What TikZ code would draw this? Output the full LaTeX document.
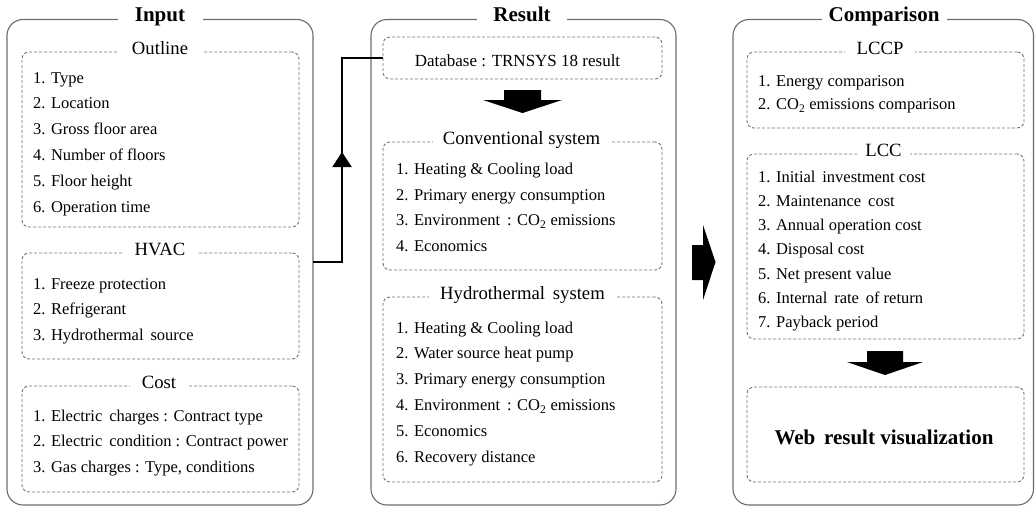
\documentclass[tikz,border=0pt]{standalone}
\usepackage{fontspec}
\setmainfont{Liberation Serif}
\usetikzlibrary{arrows.meta}
\definecolor{framegray}{gray}{0.42}
\definecolor{dashgray}{gray}{0.45}
\tikzset{
  outerbox/.style={draw=framegray, line width=1.1pt, rounded corners=16pt, inner sep=0pt, outer sep=0pt},
  secbox/.style={draw=dashgray, line width=0.9pt, dash pattern=on 3pt off 2pt, rounded corners=7pt, inner sep=0pt, outer sep=0pt},
  maintitle/.style={anchor=base, fill=white, inner xsep=0pt, inner ysep=1pt, font=\fontsize{21}{24}\selectfont\bfseries},
  sectitle/.style={anchor=base, fill=white, inner xsep=0pt, inner ysep=1pt, font=\fontsize{18.7}{22}\selectfont},
  item/.style={anchor=base west, inner sep=0pt, font=\fontsize{16.5}{20}\selectfont},
  conn/.style={line width=2pt},
  blockarrow/.style={fill=black, draw=none},
}
\begin{document}
\begin{tikzpicture}[x=1pt,y=-1pt]
\useasboundingbox (0,0) rectangle (1035,507);

% ---------- outer boxes ----------
\node[outerbox, minimum width=306pt, minimum height=485.5pt] (input) at (160,262.25) {};
\node[outerbox, minimum width=305pt, minimum height=485.5pt] (result) at (523.5,262.25) {};
\node[outerbox, minimum width=300.5pt, minimum height=485.5pt] (comp) at (883.25,262.25) {};

\node[maintitle, minimum width=85pt] (tinput) at (160,21.5) {\strut Input};
\node[maintitle, minimum width=90pt] (tresult) at (522,21.5) {\strut Result};
\node[maintitle, minimum width=125pt] (tcomp) at (884,21.5) {\strut Comparison};

% ---------- Input column ----------
\node[secbox, minimum width=277pt, minimum height=175pt] (outline) at (160.5,139.5) {};
\node[sectitle, minimum width=83pt] (toutline) at (160,54.5) {Outline};
\node[item] (o1) at (33,83) {1. Type};
\node[item] (o2) at (33,108.8) {2. Location};
\node[item] (o3) at (33,134.6) {3. Gross floor area};
\node[item] (o4) at (33,160.4) {4. Number of floors};
\node[item] (o5) at (33,186.2) {5. Floor height};
\node[item] (o6) at (33,212) {6. Operation time};

\node[secbox, minimum width=277pt, minimum height=106pt] (hvac) at (160.5,306) {};
\node[sectitle, minimum width=73pt] (thvac) at (160,255.5) {HVAC};
\node[item] (h1) at (33,289) {1. Freeze protection};
\node[item] (h2) at (33,314.5) {2. Refrigerant};
\node[item] (h3) at (33,340) {3. Hydrothermal\ \,source};

\node[secbox, minimum width=277pt, minimum height=106pt] (cost) at (160.5,439) {};
\node[sectitle, minimum width=58pt] (tcost) at (159,388.5) {Cost};
\node[item] (c1) at (33,421) {1. Electric\ \,charges : Contract type};
\node[item] (c2) at (33,446.5) {2. Electric\ \,condition : Contract power};
\node[item] (c3) at (33,472) {3. Gas charges : Type, conditions};

% ---------- Result column ----------
\node[secbox, minimum width=279pt, minimum height=42pt] (db) at (522.5,58) {};
\node[item, font=\fontsize{17}{20}\selectfont, anchor=base] (dbtext) at (517.5,66.5) {Database : TRNSYS 18 result};

\node[secbox, minimum width=279pt, minimum height=128pt] (conv) at (522.5,206) {};
\node[sectitle, minimum width=178pt] (tconv) at (521.5,144.5) {Conventional system};
\node[item] (v1) at (396,174) {1. Heating \& Cooling load};
\node[item] (v2) at (396,200) {2. Primary energy consumption};
\node[item] (v3) at (396,225.5) {3. Environment\ \,: CO\textsubscript{2} emissions};
\node[item] (v4) at (396,251) {4. Economics};

\node[secbox, minimum width=279pt, minimum height=185pt] (hydro) at (522.5,389.5) {};
\node[sectitle, minimum width=187pt] (thydro) at (522.5,299.5) {Hydrothermal\ \,system};
\node[item] (y1) at (396,333) {1. Heating \& Cooling load};
\node[item] (y2) at (396,358.8) {2. Water source heat pump};
\node[item] (y3) at (396,384.6) {3. Primary energy consumption};
\node[item] (y4) at (396,410.4) {4. Environment\ \,: CO\textsubscript{2} emissions};
\node[item] (y5) at (396,436.2) {5. Economics};
\node[item] (y6) at (396,462) {6. Recovery distance};

% ---------- Comparison column ----------
\node[secbox, minimum width=277pt, minimum height=76pt] (lccp) at (885.5,90) {};
\node[sectitle, minimum width=70pt] (tlccp) at (880,54.5) {LCCP};
\node[item] (p1) at (758,86) {1. Energy comparison};
\node[item] (p2) at (758,109.5) {2. CO\textsubscript{2} emissions comparison};

\node[secbox, minimum width=277pt, minimum height=185pt] (lcc) at (885.5,246.5) {};
\node[sectitle, minimum width=52pt] (tlcc) at (883.5,156.5) {LCC};
\node[item] (l1) at (758,182) {1. Initial\ \,investment cost};
\node[item] (l2) at (758,206.3) {2. Maintenance\ \,cost};
\node[item] (l3) at (758,230.6) {3. Annual operation cost};
\node[item] (l4) at (758,254.9) {4. Disposal cost};
\node[item] (l5) at (758,279.2) {5. Net present value};
\node[item] (l6) at (758,303.5) {6. Internal\ \,rate\ \,of return};
\node[item] (l7) at (758,327.8) {7. Payback period};

\node[secbox, minimum width=277pt, minimum height=95pt] (web) at (885.5,434.5) {};
\node[anchor=base, inner sep=0pt, font=\fontsize{21}{24}\selectfont\bfseries] (webtext) at (884,444) {Web\ \,result visualization};

% ---------- connector Input -> Database ----------
\coordinate (bend) at (342,0);
\coordinate (arrtip) at (342,152);
\draw[conn] (input.east) -- (bend |- input.east) -- (bend |- db.west) -- (db.west);
\draw[conn, -{Triangle[width=19pt,length=15pt]}] (bend |- input.east) -- (arrtip);

% ---------- block arrows ----------
\fill[blockarrow] (504,90) -- (541,90) -- (541,100) -- (562,100) -- (522.5,113) -- (483,100) -- (504,100) -- cycle;
\fill[blockarrow] (867,351) -- (903,351) -- (903,362) -- (923,362) -- (885,375) -- (847,362) -- (867,362) -- cycle;
\fill[blockarrow] (692,245) -- (703,245) -- (703,225) -- (715.5,262) -- (703,300) -- (703,280) -- (692,280) -- cycle;
\end{tikzpicture}
\end{document}
